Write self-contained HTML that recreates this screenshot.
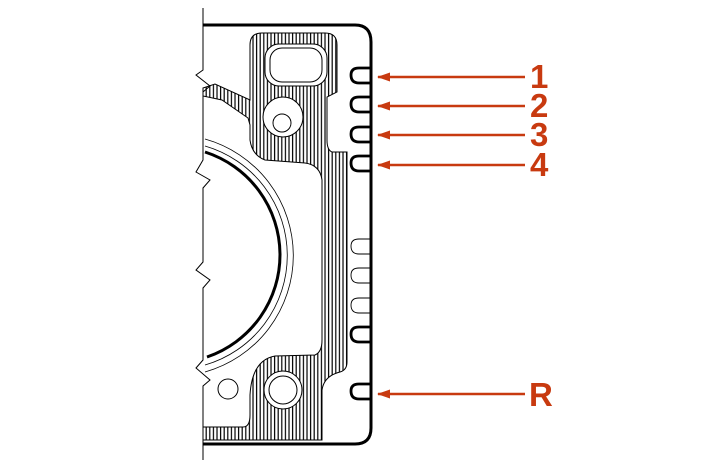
<!DOCTYPE html>
<html><head><style>html,body{margin:0;padding:0;background:#fff}svg{display:block}</style></head><body>
<svg width="705" height="470" viewBox="0 0 705 470" xmlns="http://www.w3.org/2000/svg">
<defs>
<pattern id="h" width="3.6" height="10" patternUnits="userSpaceOnUse"><rect width="3.6" height="10" fill="#fff"/><line x1="1" y1="0" x2="1" y2="10" stroke="#000" stroke-width="1.2"/></pattern>
<marker id="a" markerWidth="13" markerHeight="9" refX="1" refY="4.5" orient="auto" markerUnits="userSpaceOnUse"><path d="M13,0 L0,4.5 L13,9 Z" fill="#c83a10"/></marker>
</defs>
<g stroke="#000" fill="none">
<path d="M250,45 Q250,33 262,33 L325,33 Q337,33 337,45 L337,92 L327,97 L327,140 Q327,150 332,152 L347,152 L347,362 Q347,370 340,372 Q324,376 322,390 L322,440 L203,440 L203,427 L243,427 Q250,427 250,415 L250,395 Q252,360 275,356 L315,355 Q322,352 322,340 L322,180 Q320,165 305,163 L265,160 Q252,155 250,140 L250,125 L248,118 L222,100 L203,96 L203,88 L215,84 L250,100 Z" fill="url(#h)" stroke-width="1"/>
<rect x="265" y="44" width="62" height="42" rx="14" fill="#fff" stroke-width="1"/>
<rect x="270" y="48" width="52" height="34" rx="12" fill="#fff" stroke-width="1"/>
<circle cx="283" cy="117" r="20" fill="#fff" stroke-width="1"/>
<circle cx="282" cy="123" r="9" fill="#fff" stroke-width="1"/>
<circle cx="283" cy="390" r="19" fill="#fff" stroke-width="1"/>
<circle cx="283" cy="390" r="14" fill="#fff" stroke-width="1"/>
<circle cx="228" cy="389" r="10" stroke-width="1"/>
<path d="M205,152 A108,108 0 0 1 207,357" stroke-width="3"/>
<path d="M205,146 A114,114 0 0 1 205,365" stroke-width="0.8"/>
<path d="M205,139 A121,121 0 0 1 205,372" stroke-width="0.8"/>
<path d="M203,8 L203,70 L196,75 L210,86 L203,92 L203,160 L196,172 L210,180 L203,188 L203,262 L196,270 L210,280 L203,288 L203,360 L196,368 L210,380 L203,386 L203,460" stroke-width="1"/>
<path d="M203,25 L355,25 Q371,25 371,42 L371,428 Q371,444 355,444 L203,444" stroke-width="3"/>
<g stroke-width="2.8">
<path d="M370,68 L359,68 Q351,68 351,75 Q351,83 359,83 L370,83"/>
<path d="M370,97 L359,97 Q351,97 351,104 Q351,112 359,112 L370,112"/>
<path d="M370,127 L359,127 Q351,127 351,134 Q351,142 359,142 L370,142"/>
<path d="M370,156 L359,156 Q351,156 351,163 Q351,171 359,171 L370,171"/>
<path d="M370,327 L359,327 Q351,327 351,334 Q351,342 359,342 L370,342"/>
<path d="M370,384 L359,384 Q351,384 351,391 Q351,399 359,399 L370,399"/>
</g>
<g stroke-width="0.9">
<path d="M370,239 L359,239 Q351,239 351,246 Q351,254 359,254 L370,254"/>
<path d="M370,268 L359,268 Q351,268 351,275 Q351,283 359,283 L370,283"/>
<path d="M370,298 L359,298 Q351,298 351,305 Q351,313 359,313 L370,313"/>
</g>
</g>
<g stroke="#c83a10" stroke-width="2.5">
<line x1="378" y1="77" x2="525" y2="77" marker-start="url(#a)"/>
<line x1="378" y1="106" x2="525" y2="106" marker-start="url(#a)"/>
<line x1="378" y1="135" x2="525" y2="135" marker-start="url(#a)"/>
<line x1="378" y1="165" x2="525" y2="165" marker-start="url(#a)"/>
<line x1="378" y1="394" x2="525" y2="394" marker-start="url(#a)"/>
</g>
<g fill="#c83a10" font-family="Liberation Sans, sans-serif" font-weight="bold" font-size="33">
<text x="530" y="88">1</text>
<text x="530" y="117">2</text>
<text x="530" y="146">3</text>
<text x="530" y="176">4</text>
<text x="529" y="406">R</text>
</g>
</svg>
</body></html>
